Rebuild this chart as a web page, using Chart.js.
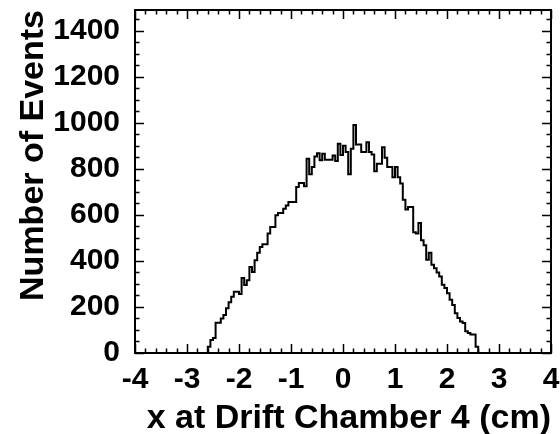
<!DOCTYPE html>
<html>
<head>
<meta charset="utf-8">
<script src="https://cdn.jsdelivr.net/npm/chart.js@4"></script>
<style>
  html, body { margin: 0; padding: 0; background: #ffffff; }
  #wrap { width: 560px; height: 434px; position: relative; }
</style>
</head>
<body>
<div id="wrap"><canvas id="c" width="560" height="434"></canvas></div>
<script>
// ---- data ----
const xRange = [-4, 4];
const yRange = [0, 1490];
const xTickValues = [-4, -3, -2, -1, 0, 1, 2, 3, 4];
const yTickValues = [0, 200, 400, 600, 800, 1000, 1200, 1400];
const binWidth = 0.05;
const firstBinLowEdge = -2.6;
// counts of the non-empty bins, from x = -2.60 to x = +2.60 (bin width 0.05)
const counts = [
  27, 56, 65, 131, 131, 150, 165, 194, 220, 244,
  266, 266, 256, 326, 295, 316, 374, 352, 403, 435,
  461, 472, 472, 519, 547, 547, 598, 608, 608, 627,
  641, 656, 656, 656, 721, 738, 738, 724, 844, 776,
  808, 854, 868, 837, 866, 840, 840, 840, 858, 834,
  909, 860, 900, 873, 776, 887, 990, 906, 906, 873,
  873, 916, 873, 862, 790, 822, 822, 894, 848, 808,
  808, 764, 808, 764, 736, 666, 623, 634, 634, 524,
  519, 565, 490, 468, 405, 436, 383, 368, 350, 332,
  296, 282, 260, 231, 209, 173, 152, 137, 130, 94,
  87, 80, 80, 27
];
const xTitle = 'x at Drift Chamber 4 (cm)';
const yTitle = 'Number of Events';

// ---- build step points (value holds from each bin's low edge to the next) ----
const points = [{x: xRange[0], y: 0}];
counts.forEach((c, i) => points.push({x: firstBinLowEdge + i * binWidth, y: c}));
points.push({x: firstBinLowEdge + counts.length * binWidth, y: 0});
points.push({x: xRange[1], y: 0});

const FONT = 'Liberation Sans, Arial, Helvetica, sans-serif';

const framePlugin = {
  id: 'rootFrame',
  afterDatasetsDraw(chart) {
    const {ctx, chartArea: a, scales} = chart;
    const xs = scales.x, ys = scales.y;
    ctx.save();
    ctx.strokeStyle = '#000';
    ctx.lineWidth = 1.5;
    ctx.beginPath();
    // x ticks (major every 1, minor every 0.2), bottom and top, pointing inside
    for (let i = -20; i <= 20; i++) {
      const v = i / 5;
      const px = Math.round(xs.getPixelForValue(v)) + 0.5;
      const len = (i % 5 === 0) ? 9 : 4.5;
      ctx.moveTo(px, a.bottom); ctx.lineTo(px, a.bottom - len);
      ctx.moveTo(px, a.top); ctx.lineTo(px, a.top + len);
    }
    // y ticks (major every 200, minor every 50), left and right
    for (let v = 0; v <= yRange[1]; v += 50) {
      const py = Math.round(ys.getPixelForValue(v)) + 0.5;
      const len = (v % 200 === 0) ? 9 : 4.5;
      ctx.moveTo(a.left, py); ctx.lineTo(a.left + len, py);
      ctx.moveTo(a.right, py); ctx.lineTo(a.right - len, py);
    }
    ctx.stroke();
    ctx.lineWidth = 2;
    ctx.strokeRect(a.left, a.top, a.right - a.left, a.bottom - a.top);
    ctx.restore();
  }
};

new Chart(document.getElementById('c'), {
  type: 'line',
  data: {
    datasets: [{
      data: points,
      stepped: true,
      borderColor: '#000000',
      borderWidth: 2,
      pointRadius: 0,
      fill: false,
      tension: 0
    }]
  },
  options: {
    responsive: false,
    animation: false,
    devicePixelRatio: 1,
    layout: { padding: { top: 10, right: 9, left: 0, bottom: 0 } },
    plugins: { legend: { display: false }, tooltip: { enabled: false } },
    scales: {
      x: {
        type: 'linear',
        min: xRange[0], max: xRange[1],
        afterFit: (s) => { s.height = 81; s.paddingLeft = 0; s.paddingRight = 0; },
        afterBuildTicks: (s) => { s.ticks = xTickValues.map(v => ({value: v})); },
        grid: { display: false, drawTicks: false },
        border: { display: false },
        ticks: {
          color: '#000',
          padding: 9,
          maxRotation: 0,
          autoSkip: false,
          callback: (v) => String(v),
          font: { family: FONT, weight: 'bold', size: 30 }
        },
        title: {
          display: true,
          text: xTitle,
          align: 'end',
          color: '#000',
          padding: { top: 0, bottom: 2 },
          font: { family: FONT, weight: 'bold', size: 34, lineHeight: 0.8 }
        }
      },
      y: {
        type: 'linear',
        min: yRange[0], max: yRange[1],
        afterFit: (s) => { s.width = 135; s.paddingTop = 0; s.paddingBottom = 0; },
        afterBuildTicks: (s) => { s.ticks = yTickValues.map(v => ({value: v})); },
        grid: { display: false, drawTicks: false },
        border: { display: false },
        ticks: {
          color: '#000',
          padding: 15,
          autoSkip: false,
          callback: (v) => String(v),
          font: { family: FONT, weight: 'bold', size: 30 }
        },
        title: {
          display: true,
          text: yTitle,
          align: 'end',
          color: '#000',
          padding: { top: 20, bottom: 0 },
          font: { family: FONT, weight: 'bold', size: 34, lineHeight: 0.8 }
        }
      }
    }
  },
  plugins: [framePlugin]
});
</script>
</body>
</html>
